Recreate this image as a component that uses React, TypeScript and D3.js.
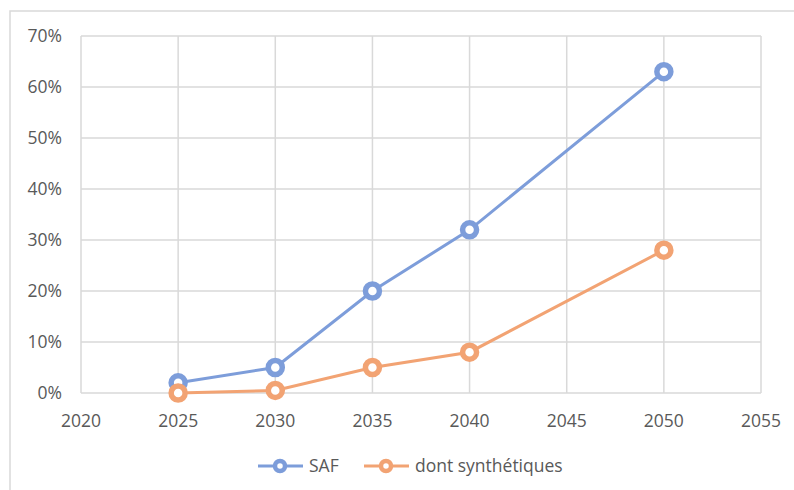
import React from "react";
import * as d3 from "d3";

const years = [2025, 2030, 2035, 2040, 2050];
const safShare = [2, 5, 20, 32, 63];
const syntheticShare = [0, 0.5, 5, 8, 28];
const xTicks = [2020, 2025, 2030, 2035, 2040, 2045, 2050, 2055];
const yTicks = [0, 10, 20, 30, 40, 50, 60, 70];
const seriesNames = ["SAF", "dont synthétiques"];

const W = 794;
const H = 490;
const blue = "#7D9DDA";
const orange = "#F2A373";
const grid = "#D9D9D9";
const textColor = "#595959";
const font = "'Open Sans', 'Noto Sans', sans-serif";
const fontSize = 17.5;

export default function App() {
  const x = d3.scaleLinear().domain([2020, 2055]).range([81, 761]);
  const y = d3.scaleLinear().domain([0, 70]).range([393, 36]);
  const line = d3
    .line<[number, number]>()
    .x((d) => x(d[0]))
    .y((d) => y(d[1]));

  const series = [
    { name: seriesNames[0], color: blue, values: safShare },
    { name: seriesNames[1], color: orange, values: syntheticShare },
  ];

  const legend = [
    { name: seriesNames[0], color: blue, x0: 258 },
    { name: seriesNames[1], color: orange, x0: 364 },
  ];

  return (
    <svg
      width={W}
      height={H}
      style={{ position: "absolute", left: 0, top: 0, background: "#fff" }}
      fontFamily={font}
    >
      <rect x={10} y={11} width={W} height={H} fill="#fff" stroke={grid} strokeWidth={1.5} />
      {yTicks.map((t) => (
        <g key={"y" + t}>
          <line x1={x(2020)} x2={x(2055)} y1={y(t)} y2={y(t)} stroke={grid} strokeWidth={1.5} />
          <text x={62} y={y(t)} dy="0.35em" textAnchor="end" fontSize={fontSize} fill={textColor}>
            {t}%
          </text>
        </g>
      ))}
      {xTicks.map((t) => (
        <g key={"x" + t}>
          <line x1={x(t)} x2={x(t)} y1={y(0)} y2={y(70)} stroke={grid} strokeWidth={1.5} />
          <text x={x(t)} y={427} textAnchor="middle" fontSize={fontSize} fill={textColor}>
            {t}
          </text>
        </g>
      ))}
      {series.map((s) => {
        const pts = years.map((yr, i) => [yr, s.values[i]] as [number, number]);
        return (
          <g key={s.name}>
            <path d={line(pts) || ""} fill="none" stroke={s.color} strokeWidth={3} />
            {pts.map((p, i) => (
              <circle
                key={i}
                cx={x(p[0])}
                cy={y(p[1])}
                r={7}
                fill="#fff"
                stroke={s.color}
                strokeWidth={5.5}
              />
            ))}
          </g>
        );
      })}
      {legend.map((l) => (
        <g key={l.name}>
          <line x1={l.x0} x2={l.x0 + 45} y1={466} y2={466} stroke={l.color} strokeWidth={3} />
          <circle cx={l.x0 + 22} cy={466} r={5} fill="#fff" stroke={l.color} strokeWidth={4.5} />
          <text x={l.x0 + 51} y={466} dy="0.35em" fontSize={fontSize} fill={textColor}>
            {l.name}
          </text>
        </g>
      ))}
    </svg>
  );
}
